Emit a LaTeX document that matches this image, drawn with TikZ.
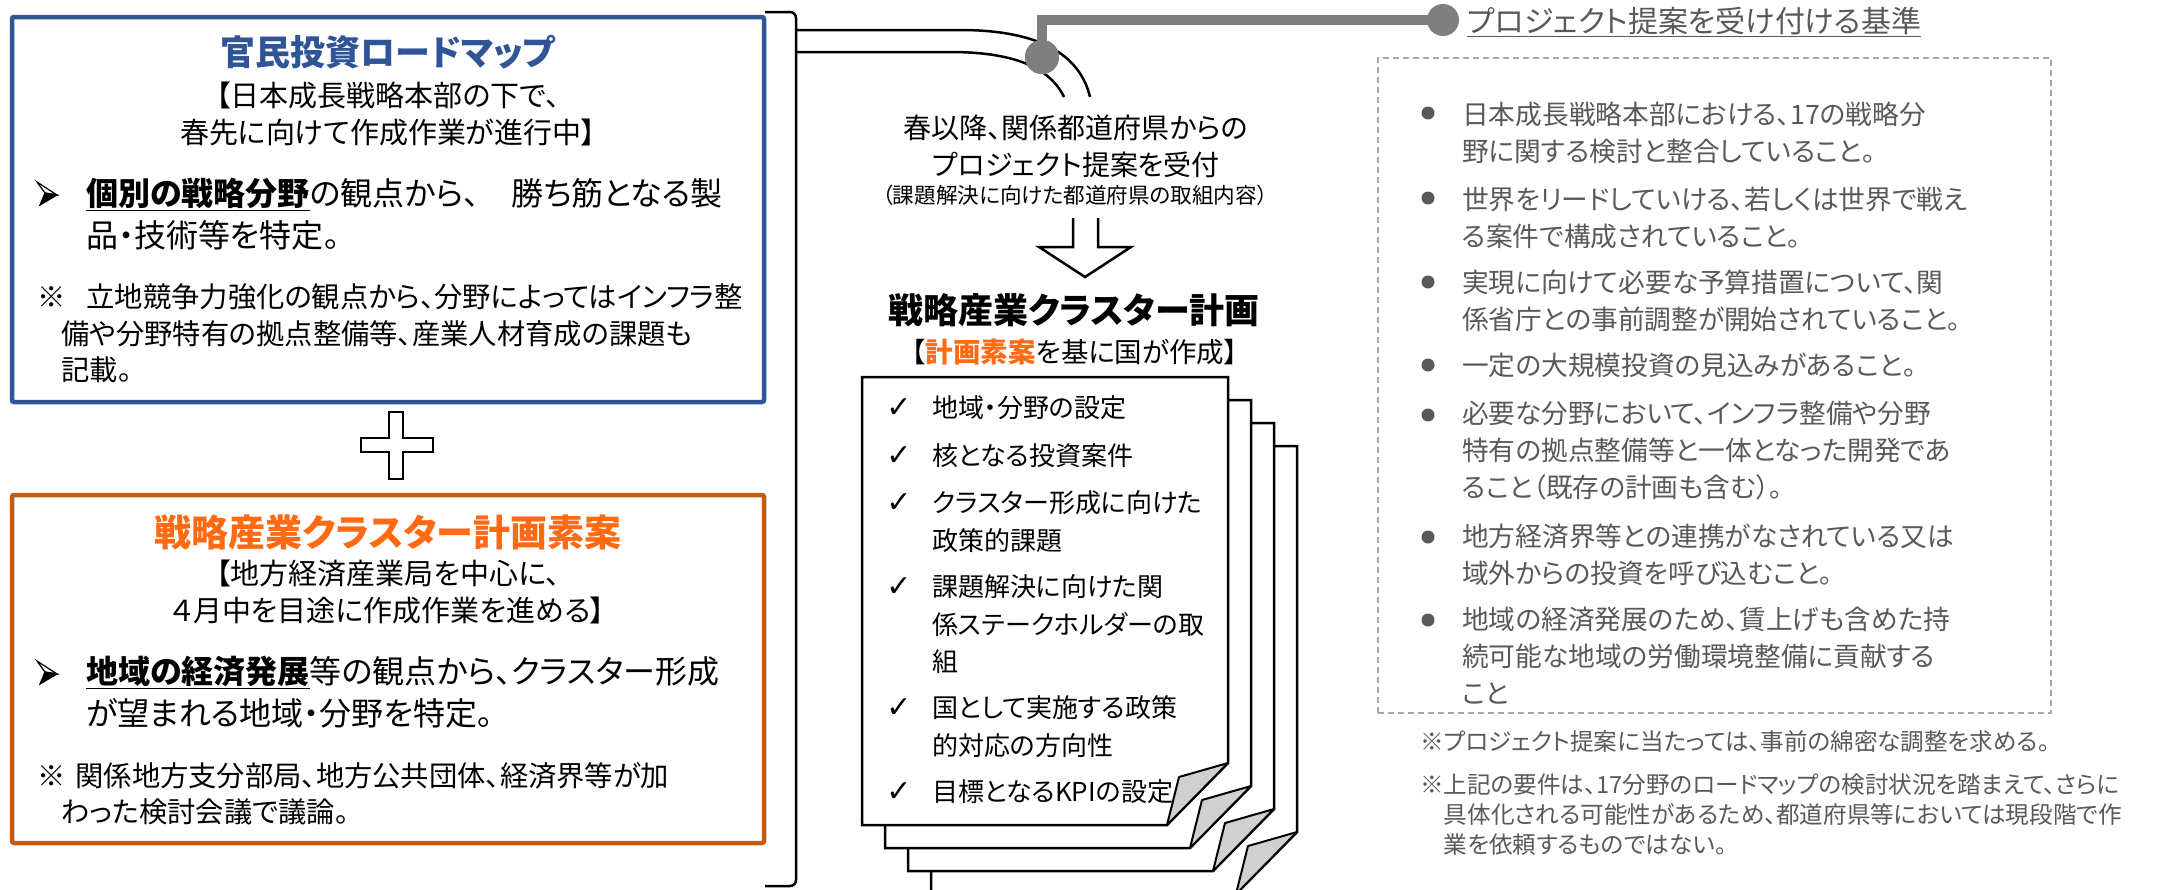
\documentclass[tikz,border=0pt]{standalone}
\usepackage{fontspec}
\usepackage{tikz}
\usetikzlibrary{positioning, calc}
\newfontfamily\jpfont{Noto Sans CJK JP}[RawFeature={+palt}]
\newfontfamily\symfont{DejaVu Sans}
\newcommand{\jpsize}[2]{\jpfont\fontsize{#1}{#2}\selectfont}
\definecolor{roadblue}{HTML}{2F5597}
\definecolor{planorange}{HTML}{C55A11}
\definecolor{titleorange}{HTML}{FF6A13}
\definecolor{critgray}{HTML}{595959}
\definecolor{pipegray}{HTML}{7F7F7F}
\definecolor{foldgray}{HTML}{D0D0D0}
\definecolor{dashgray}{HTML}{A6A6A6}

\begin{document}
\begin{tikzpicture}[x=1pt, y=-1pt,
        panel/.style={draw, line width=4.5pt, rounded corners=2pt, minimum width=752pt, inner sep=0pt},
        boxtitle/.style={font=\jpsize{35}{40}\bfseries, inner sep=0pt},
        boxsub/.style={font=\jpsize{29}{37}, align=center, inner sep=0pt},
        boxitem/.style={font=\jpsize{32}{42}, align=left, anchor=west, inner sep=0pt},
        boxnote/.style={font=\jpsize{28.3}{36.5}, align=left, anchor=west, inner sep=0pt},
        midtxt/.style={font=\jpsize{28}{37}, align=center, inner sep=0pt},
        page/.style={draw, fill=white, line width=2.5pt},
        flap/.style={draw, fill=foldgray, line width=2pt, line join=round},
        chk/.style={font=\symfont\bfseries\fontsize{30}{32}\selectfont, inner sep=0pt},
        checkitem/.style={font=\jpsize{26}{37.5}, align=left, anchor=west, inner sep=0pt},
        critbox/.style={draw=dashgray, line width=1.8pt, dash pattern=on 6pt off 4pt, inner sep=0pt},
        crit/.style={font=\jpsize{26.7}{37}, text=critgray, align=left, anchor=west, inner sep=0pt},
        critdot/.style={circle, fill=critgray, minimum size=13pt, inner sep=0pt},
        critnote/.style={font=\jpsize{23.6}{30}, text=critgray, align=left, anchor=west, inner sep=0pt},
        pipe/.style={line width=2.5pt},
        gline/.style={draw=pipegray, line width=10pt},
        joint/.style={circle, fill=pipegray, minimum size=34pt, inner sep=0pt},
        headup/.style={draw, fill=white, line width=1.2pt, line join=miter},
        headlow/.style={draw, fill=black, line width=1.2pt, line join=miter},
    ]
    \fill[white] (0,0) rectangle (2178,889);
    \useasboundingbox (0,0) rectangle (2178,889);

    % ---- Roadmap box (blue) ----
    \node[panel, draw=roadblue, minimum height=385pt] (roadmap) at (388,209.5) {};
    \node[boxtitle, text=roadblue] (roadtitle) at (388,52) {官民投資ロードマップ};
    \node[boxsub] (roadsub) at (388,113.5) {【日本成長戦略本部の下で、\\春先に向けて作成作業が進行中】};
    \begin{scope}[shift={(47,194)}]
        \draw[headup] (-10,-12) -- (10,1) -- (-2,-1) -- cycle;
        \draw[headlow] (-2,-1) -- (10,1) -- (-7,11) -- cycle;
    \end{scope}
    \node[boxitem] (roaditem) at (86,214) {\underline{\textbf{個別の戦略分野}}の観点から、　勝ち筋となる製\\品・技術等を特定。};
    \node[boxnote] (roadnote) at (37,333.5) {※\hspace{21pt}立地競争力強化の観点から、分野によってはインフラ整\\\hspace*{24pt}備や分野特有の拠点整備等、産業人材育成の課題も\\\hspace*{24pt}記載。};

    % ---- Plus sign ----
    \draw[line width=2.5pt, fill=white] (389,412) -- (403,412) -- (403,438) -- (433,438) -- (433,452) -- (403,452)
        -- (403,479) -- (389,479) -- (389,452) -- (361,452) -- (361,438) -- (389,438) -- cycle;

    % ---- Cluster draft box (orange) ----
    \node[panel, draw=planorange, minimum height=348pt] (draft) at (388,669) {};
    \node[boxtitle, text=titleorange, font=\jpsize{37}{40}\bfseries] (drafttitle) at (388,532) {戦略産業クラスター計画素案};
    \node[boxsub] (draftsub) at (388,591.5) {【地方経済産業局を中心に、\\４月中を目途に作成作業を進める】};
    \begin{scope}[shift={(47,673)}]
        \draw[headup] (-10,-12) -- (10,1) -- (-2,-1) -- cycle;
        \draw[headlow] (-2,-1) -- (10,1) -- (-7,11) -- cycle;
    \end{scope}
    \node[boxitem] (draftitem) at (86,692.5) {\underline{\textbf{地域の経済発展}}等の観点から、クラスター形成\\が望まれる地域・分野を特定。};
    \node[boxnote] (draftnote) at (37,794) {※\hspace{10pt}関係地方支分部局、地方公共団体、経済界等が加\\\hspace*{24pt}わった検討会議で議論。};

    % ---- Bracket and double pipe ----
    \draw[pipe, rounded corners=6pt] (765,12) -- (796,12) -- (796,886) -- (765,886);
    \draw[pipe] (796,30) -- (960,30) .. controls (1040,30) and (1080,55) .. (1090,97);
    \draw[pipe] (796,52) -- (950,52) .. controls (1015,52) and (1050,68) .. (1064,97);

    % ---- Gray connector to the criteria ----
    \node[joint] (jointl) at (1042,57) {};
    \node[joint, minimum size=32pt] (jointr) at (1443,20) {};
    \draw[gline] (jointl.center) |- (jointr.center);
    \node[joint] at (1042,57) {};
    \node[font=\jpsize{30}{34}, text=critgray, anchor=west, inner sep=0pt] (crittitle) at (1467,22)
        {\underline{プロジェクト提案を受け付ける基準}};

    % ---- Middle column ----
    \node[midtxt] (intake) at (1076,146.5) {春以降、関係都道府県からの\\プロジェクト提案を受付};
    \node[midtxt, font=\jpsize{21.6}{26}] (intakenote) at (1075,195) {（課題解決に向けた都道府県の取組内容）};
    \draw[line width=2.5pt, line join=miter] (1073,218) -- (1073,247) -- (1039,247) -- (1085,277)
        -- (1131,247) -- (1098,247) -- (1098,218);
    \node[boxtitle, text=black] (plan) at (1074,310) {戦略産業クラスター計画};
    \node[midtxt, font=\jpsize{27.5}{32}] (plansub) at (1075,352)
        {【\textcolor{titleorange}{\textbf{計画素案}}を基に国が作成】};

    % ---- Stack of plan pages ----
    \foreach \k in {3,2,1,0} {
        \begin{scope}[shift={(23*\k,23*\k)}]
            \draw[page] (862,377) -- (1228,377) -- (1228,763) -- (1167,825) -- (862,825) -- cycle;
            \draw[flap] (1167,825) -- (1179,777) -- (1228,763) -- cycle;
        \end{scope}
    }

    % ---- Checklist ----
    \node[chk] at (899,408) {✓};
    \node[checkitem] (c1) at (932,408) {地域・分野の設定};
    \node[chk] at (899,456) {✓};
    \node[checkitem] (c2) at (932,456) {核となる投資案件};
    \node[chk] at (899,503) {✓};
    \node[checkitem] (c3) at (932,521.5) {クラスター形成に向けた\\政策的課題};
    \node[chk] at (899,587) {✓};
    \node[checkitem] (c4) at (932,624.5) {課題解決に向けた関\\係ステークホルダーの取\\組};
    \node[chk] at (899,708) {✓};
    \node[checkitem] (c5) at (932,726.5) {国として実施する政策\\的対応の方向性};
    \node[chk] at (899,792) {✓};
    \node[checkitem] (c6) at (932,792) {目標となるKPIの設定};

    % ---- Criteria box (dashed) ----
    \node[critbox, minimum width=673pt, minimum height=655pt] (criteria) at (1714.5,385.5) {};
    \node[critdot] at (1428,113) {};
    \node[crit] (b1) at (1462,132.5) {日本成長戦略本部における、17の戦略分\\野に関する検討と整合していること。};
    \node[critdot] at (1428,198) {};
    \node[crit] (b2) at (1462,217.5) {世界をリードしていける、若しくは世界で戦え\\る案件で構成されていること。};
    \node[critdot] at (1428,282) {};
    \node[crit] (b3) at (1462,301) {実現に向けて必要な予算措置について、関\\係省庁との事前調整が開始されていること。};
    \node[critdot] at (1428,365) {};
    \node[crit] (b4) at (1462,365) {一定の大規模投資の見込みがあること。};
    \node[critdot] at (1428,415) {};
    \node[crit] (b5) at (1462,451) {必要な分野において、インフラ整備や分野\\特有の拠点整備等と一体となった開発であ\\ること（既存の計画も含む）。};
    \node[critdot] at (1428,537) {};
    \node[crit] (b6) at (1462,554.5) {地方経済界等との連携がなされている又は\\域外からの投資を呼び込むこと。};
    \node[critdot] at (1428,620) {};
    \node[crit] (b7) at (1462,656) {地域の経済発展のため、賃上げも含めた持\\続可能な地域の労働環境整備に貢献する\\こと};

    % ---- Notes under the criteria ----
    \node[critnote] (note1) at (1420,742) {※プロジェクト提案に当たっては、事前の綿密な調整を求める。};
    \node[critnote] (note2) at (1420,815) {※上記の要件は、17分野のロードマップの検討状況を踏まえて、さらに\\\hspace*{1em}具体化される可能性があるため、都道府県等においては現段階で作\\\hspace*{1em}業を依頼するものではない。};

\end{tikzpicture}
\end{document}
